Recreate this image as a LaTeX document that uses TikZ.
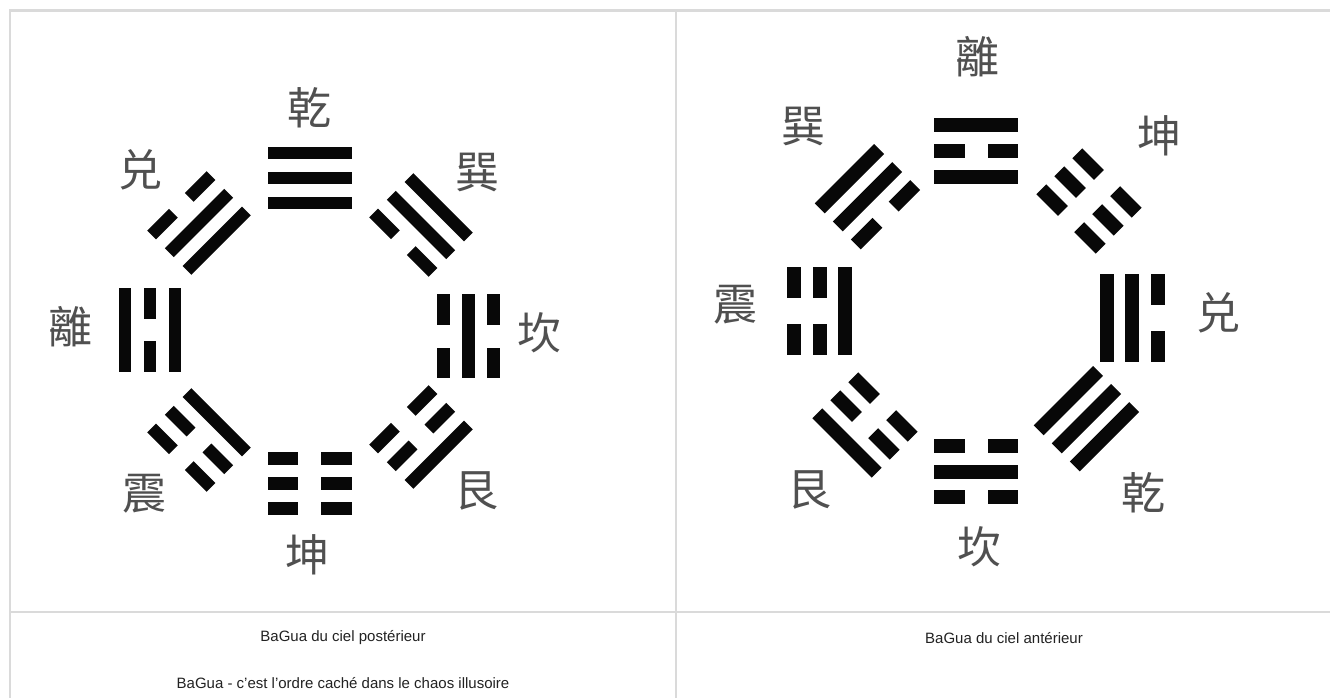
\documentclass[tikz,border=0pt]{standalone}
\usepackage{fontspec}
\setmainfont{Liberation Sans}
\newfontfamily\cjk{Noto Sans CJK TC}
\definecolor{framegray}{HTML}{DADADA}
\definecolor{labelgray}{HTML}{505050}
\definecolor{captext}{HTML}{222222}
\definecolor{yaoblack}{HTML}{080808}

% one line (yao) of a trigram: #1 = offset across, #2 = 1 solid / 0 broken
\newcommand\yaoline[2]{%
  \ifnum#2=1
    \fill[yaoblack] (-\yl,#1-\yt) rectangle (\yl,#1+\yt);
  \else
    \fill[yaoblack] (-\yl,#1-\yt) rectangle (-\yg,#1+\yt);
    \fill[yaoblack] (\yg,#1-\yt) rectangle (\yl,#1+\yt);
  \fi}
% trigram: x, y, clockwise rotation, top, middle, bottom line
\newcommand\trigram[6]{%
  \begin{scope}[shift={(#1,#2)},rotate=-#3]
    \yaoline{-\ys}{#4}\yaoline{0}{#5}\yaoline{\ys}{#6}
  \end{scope}}

\begin{document}
\begin{tikzpicture}[x=1pt,y=-1pt,
  guaname/.style={font=\cjk\fontsize{44}{44}\selectfont,text=labelgray,inner sep=0pt},
  caption/.style={font=\fontsize{15}{17}\selectfont,text=captext,inner sep=0pt}]
\useasboundingbox (0,0) rectangle (1330,698);
\fill[white] (0,0) rectangle (1330,698);

% table frame
\draw[framegray,line width=2.5] (9,10.5) -- (1330,10.5);
\draw[framegray,line width=2] (10,10) -- (10,698);
\draw[framegray,line width=2] (676,10) -- (676,698);
\draw[framegray,line width=2.5] (9,612) -- (1330,612);

% ---- left: later heaven ----
\def\yl{42}\def\yt{6.2}\def\ys{25}\def\yg{11.2}
\trigram{309.5}{178}{0}{1}{1}{1}
\trigram{421}{225}{45}{1}{1}{0}
\trigram{468.6}{336.4}{90}{0}{1}{0}
\trigram{421}{437}{135}{1}{0}{0}
\trigram{309.5}{483.5}{180}{0}{0}{0}
\trigram{199}{440}{225}{0}{0}{1}
\trigram{150}{330}{270}{1}{0}{1}
\trigram{199}{223}{315}{0}{1}{1}

\node[guaname] (qian1) at (309,108) {乾};
\node[guaname] (dui1)  at (140,170) {兑};
\node[guaname] (xun1)  at (477,172) {巽};
\node[guaname] (li1)   at (70,327)  {離};
\node[guaname] (kan1)  at (539,333) {坎};
\node[guaname] (zhen1) at (144,494) {震};
\node[guaname] (kun1)  at (307,555) {坤};
\node[guaname] (gen1)  at (476,491) {艮};

% ---- right: earlier heaven ----
\def\yl{42}\def\yt{7}\def\ys{25.5}\def\yg{11.5}
\trigram{976}{151}{0}{1}{0}{1}
\trigram{1089}{201}{45}{0}{0}{0}
\trigram{976}{471.5}{180}{0}{1}{0}
\trigram{1086.4}{418.7}{135}{1}{1}{1}
\trigram{865}{425}{225}{1}{0}{0}
\trigram{867.5}{196.7}{315}{1}{1}{0}
\def\yl{44}\def\yg{12.8}
\trigram{1132}{317.7}{90}{0}{1}{1}
\trigram{819.5}{311}{270}{0}{0}{1}

\node[guaname] (li2)   at (977,57)   {離};
\node[guaname] (xun2)  at (803,126)  {巽};
\node[guaname] (kun2)  at (1159,136) {坤};
\node[guaname] (dui2)  at (1218,313) {兑};
\node[guaname] (zhen2) at (735,305)  {震};
\node[guaname] (gen2)  at (809,490)  {艮};
\node[guaname] (kan2)  at (979,547)  {坎};
\node[guaname] (qian2) at (1143,493) {乾};

% captions
\node[caption] (cap1) at (343,638) {BaGua du ciel postérieur};
\node[caption] (cap2) at (343,683) {BaGua - c’est l’ordre caché dans le chaos illusoire};
\node[caption] (cap3) at (1004,638) {BaGua du ciel antérieur};
\end{tikzpicture}
\end{document}
